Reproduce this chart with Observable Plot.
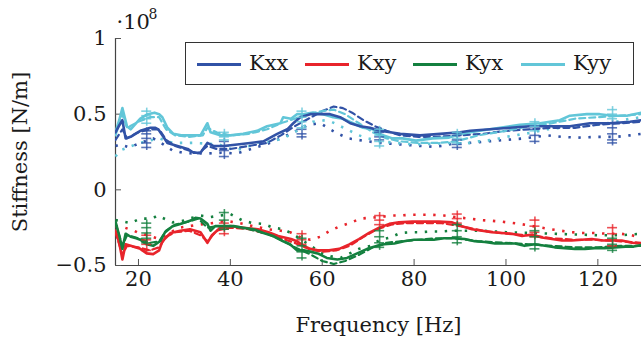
<!DOCTYPE html>
<html><head><meta charset="utf-8">
<script src="https://cdn.jsdelivr.net/npm/d3@7"></script>
<script src="https://cdn.jsdelivr.net/npm/@observablehq/plot@0.6"></script>
<style>
html,body{margin:0;padding:0;background:#fff;}
#wrap{position:relative;width:641px;height:347px;font-family:"DejaVu Serif","Liberation Serif",serif;color:#1a1a1a;}
#wrap svg text{font-family:"DejaVu Serif","Liberation Serif",serif;}
#legend{position:absolute;left:185px;top:42px;width:447px;height:41px;border:1.3px solid #333;background:#fff;}
.item{position:absolute;top:0;height:41px;}
.item .ln{position:absolute;left:0;top:20px;width:44px;height:3px;}
.item .tx{position:absolute;left:52px;top:6px;font-size:21px;line-height:28px;}
</style>
</head><body>
<div id="wrap"></div>
<script>
// ---- data (values in units of 1e8 N/m) ----
const seriesNames = ["Kxx","Kxy","Kyx","Kyy"];
const seriesColors = ["#3152a6","#e8242b","#14803f","#62c6d8"];
const xTicks = [20,40,60,80,100,120];
const yTicks = [-0.5,0,0.5,1];

// solid
const kxxF = [15,15.7,16.5,17.2,18.3,19.3,20.4,21.5,22.6,23.7,24.3,25.2,26.3,27.4,28.5,29.6,30.7,32,33.5,34.3,35,36.3,38.5,41.5,44.3,47.2,50.2,52.4,53.7,55.2,57.4,59.6,61.7,63.9,66.1,68.3,70.4,72.6,74.8,77,81.3,85.7,90,92.2,96.5,100.9,105.2,109.6,113.9,118.3,122.6,127,129.5];
const kxxV = [0.38,0.42,0.46,0.34,0.35,0.37,0.39,0.40,0.41,0.41,0.40,0.36,0.31,0.30,0.29,0.28,0.27,0.245,0.245,0.28,0.31,0.29,0.29,0.30,0.31,0.32,0.37,0.40,0.44,0.48,0.50,0.50,0.50,0.48,0.44,0.42,0.41,0.39,0.38,0.37,0.36,0.37,0.38,0.39,0.40,0.41,0.42,0.42,0.42,0.44,0.44,0.45,0.46];
const kyyF = [15,15.8,16.5,17.5,18.3,19.5,20.4,22,23.5,24.5,25.2,26.3,27.6,29.3,31.5,33.5,35,35.7,37.8,40,42.8,45.8,48,50.9,51.5,53.2,54.5,55.8,58,60.2,62.4,64.5,66.7,68.9,71,73.2,75.3,77.5,80.4,84,87.6,90,94.3,98.7,103,107.4,111.7,113.9,117.6,120.4,123.2,126.3,129.5];
const kyyV = [0.38,0.46,0.54,0.42,0.40,0.44,0.47,0.50,0.51,0.50,0.48,0.41,0.37,0.36,0.36,0.36,0.44,0.38,0.36,0.36,0.37,0.39,0.42,0.44,0.48,0.47,0.50,0.50,0.51,0.50,0.48,0.47,0.44,0.41,0.40,0.36,0.34,0.34,0.325,0.34,0.345,0.37,0.39,0.41,0.43,0.44,0.46,0.49,0.50,0.50,0.49,0.49,0.51];
const kxyF = [15,15.8,16.5,17.2,18.3,19.3,20.4,21.8,23.2,24.5,25.2,27,29.1,31.2,33.5,35,36,37.8,40,42.8,46,48.3,50.4,53.2,54.5,56,57.4,59,61.5,63.7,65.9,68,70.2,72.4,74.6,76.7,79.6,82.4,85.4,88.3,90.4,92.6,94.8,96.9,99.1,101.3,103.5,105.7,107.8,110,112.2,114.3,116.5,118.7,120.9,123,125.2,127.4,129.5];
const kxyV = [-0.27,-0.35,-0.46,-0.36,-0.37,-0.38,-0.39,-0.42,-0.425,-0.40,-0.34,-0.285,-0.27,-0.26,-0.28,-0.35,-0.30,-0.25,-0.24,-0.25,-0.26,-0.28,-0.305,-0.325,-0.34,-0.37,-0.39,-0.40,-0.40,-0.39,-0.36,-0.325,-0.285,-0.25,-0.225,-0.215,-0.21,-0.21,-0.21,-0.215,-0.24,-0.26,-0.27,-0.28,-0.285,-0.29,-0.305,-0.295,-0.315,-0.325,-0.335,-0.335,-0.33,-0.325,-0.335,-0.335,-0.335,-0.35,-0.355];
const kyxF = [15,15.8,16.5,17.2,18.3,19.5,20.4,21.8,23.2,24.7,25.8,27.4,29.1,31.2,32.4,33.5,35,35.7,36.7,38.5,40.7,42.8,45,47.2,49.3,51.5,53,54.5,56,57.6,59,61,63.3,65.4,67.6,69.8,72,73.5,75.7,77.8,80,82.2,84.3,86.5,88.7,91,93.2,95.4,97.6,99.8,102,104,106.3,108.5,110.6,112.8,115,117.2,119.3,121.5,123.7,126,127.8,129.5];
const kyxV = [-0.21,-0.30,-0.39,-0.29,-0.31,-0.32,-0.33,-0.36,-0.37,-0.34,-0.28,-0.24,-0.225,-0.205,-0.185,-0.19,-0.225,-0.27,-0.24,-0.24,-0.24,-0.25,-0.26,-0.285,-0.305,-0.34,-0.36,-0.40,-0.40,-0.41,-0.42,-0.45,-0.46,-0.45,-0.42,-0.39,-0.37,-0.36,-0.355,-0.34,-0.33,-0.33,-0.33,-0.32,-0.32,-0.325,-0.34,-0.345,-0.355,-0.355,-0.355,-0.37,-0.36,-0.37,-0.38,-0.385,-0.39,-0.39,-0.385,-0.385,-0.38,-0.375,-0.375,-0.365];

// dashed
const kxxDashF = [15,16.5,17.5,20,22.5,24.5,26,28,31,33,35,37,40,44,48,51,54,57,60,62.5,64.5,66.5,69,71.5,74,77,81,85,90,95,100,105,110,115,120,125,129.5];
const kxxDashV = [0.33,0.40,0.34,0.38,0.40,0.40,0.33,0.29,0.26,0.24,0.29,0.27,0.27,0.29,0.31,0.36,0.42,0.47,0.52,0.55,0.54,0.51,0.46,0.42,0.39,0.36,0.35,0.35,0.36,0.37,0.39,0.40,0.41,0.41,0.43,0.44,0.45];
const kyyDashF = [15,16.5,17.5,20,22.5,24.5,26,28,31,34,35,37,40,44,48,51,54,57,60,62.5,65,68,71,74,77,81,85,89,94,100,105,110,115,120,125,129.5];
const kyyDashV = [0.36,0.50,0.41,0.45,0.48,0.48,0.40,0.36,0.35,0.36,0.41,0.38,0.36,0.37,0.40,0.44,0.47,0.50,0.52,0.53,0.50,0.44,0.38,0.34,0.32,0.31,0.31,0.32,0.36,0.39,0.42,0.44,0.47,0.48,0.49,0.50];
const kxyDashF = [15,16.5,17.5,20,22.5,24.5,26,28,31,33.5,35,37,40,44,48,51,54,57,60,63,66,69,72,75,78,82,86,90,95,100,105,110,115,120,125,129.5];
const kxyDashV = [-0.28,-0.43,-0.37,-0.38,-0.40,-0.38,-0.31,-0.28,-0.27,-0.30,-0.34,-0.27,-0.25,-0.26,-0.29,-0.32,-0.35,-0.39,-0.41,-0.40,-0.37,-0.31,-0.26,-0.23,-0.22,-0.22,-0.22,-0.24,-0.27,-0.29,-0.30,-0.32,-0.33,-0.33,-0.34,-0.35];
const kyxDashF = [15,16.5,17.5,20,22.5,24.5,26,28,31,33,35,37,40,44,48,51,54,57,60,62.5,65,68,71,74,77,81,85,89,94,100,105,110,115,120,125,129.5];
const kyxDashV = [-0.22,-0.37,-0.30,-0.32,-0.35,-0.34,-0.27,-0.23,-0.21,-0.19,-0.25,-0.24,-0.24,-0.26,-0.29,-0.33,-0.38,-0.42,-0.47,-0.49,-0.47,-0.43,-0.38,-0.35,-0.34,-0.33,-0.32,-0.32,-0.34,-0.35,-0.36,-0.37,-0.38,-0.38,-0.37,-0.37];

// dotted
const kxxDotF = [15,16,18,20.4,23.2,25.4,27.4,29.6,32,35,38,41.3,43.5,45.6,47.8,49.3,51,53,55,57,59.6,61.7,63.5,65.7,67.8,70,72.6,74.8,77,79.2,81.3,84,86,88.5,92,96,100,104,109,112,115.5,120,124,127,129.5];
const kxxDotV = [0.29,0.30,0.28,0.31,0.34,0.30,0.26,0.245,0.24,0.24,0.245,0.24,0.26,0.28,0.30,0.32,0.34,0.37,0.40,0.43,0.44,0.40,0.37,0.34,0.33,0.32,0.31,0.305,0.30,0.295,0.29,0.285,0.29,0.305,0.31,0.32,0.33,0.34,0.36,0.35,0.345,0.35,0.35,0.36,0.37];
const kyyDotF = [15,16,18.5,20.4,23,24.5,27.5,29.6,32,35,37.5,41,43.5,45.6,49,51.5,54,56,58,60,62,64,66,68,70,73,76,80,84,88,91,94,97,100,103,106,109,112,116,120,124,127,129.5];
const kyyDotV = [0.22,0.26,0.29,0.31,0.33,0.34,0.31,0.31,0.31,0.305,0.30,0.26,0.28,0.31,0.32,0.34,0.38,0.42,0.45,0.46,0.45,0.42,0.39,0.36,0.34,0.32,0.31,0.30,0.305,0.31,0.305,0.32,0.33,0.35,0.365,0.38,0.40,0.41,0.42,0.43,0.45,0.47,0.48];
const kxyDotF = [15,17,19,20,22,24,25.5,27,29,31,33,36,39,42,45,48,51,53,55,57.4,59.6,61.7,63.9,66,68.3,70.4,72.6,74.8,77,79,81.3,84,86.5,89,92,94.6,97,99,103,109.6,112,114.3,116.7,119,122,125,127.4,129.5];
const kxyDotV = [-0.24,-0.25,-0.27,-0.285,-0.30,-0.32,-0.31,-0.28,-0.25,-0.24,-0.23,-0.22,-0.205,-0.22,-0.24,-0.26,-0.27,-0.28,-0.31,-0.33,-0.31,-0.27,-0.24,-0.22,-0.19,-0.185,-0.18,-0.17,-0.17,-0.165,-0.165,-0.165,-0.17,-0.18,-0.19,-0.20,-0.205,-0.21,-0.225,-0.26,-0.27,-0.28,-0.285,-0.285,-0.29,-0.29,-0.30,-0.32];
const kyxDotF = [15,16,18.3,20.4,23,24.1,27.4,29.6,31.7,33.5,35.7,37.8,40,42.8,45,47.2,49.3,51.5,53.5,55.5,57.5,60,62,64,66,68,70.5,72.6,74.8,77,79.2,81.3,84,86,88.3,91,95,100,105,110,115,120,125,129.5];
const kyxDotV = [-0.20,-0.205,-0.22,-0.19,-0.19,-0.17,-0.215,-0.205,-0.185,-0.17,-0.18,-0.17,-0.16,-0.205,-0.22,-0.225,-0.25,-0.26,-0.29,-0.33,-0.37,-0.42,-0.44,-0.45,-0.42,-0.39,-0.37,-0.33,-0.315,-0.285,-0.28,-0.28,-0.275,-0.275,-0.27,-0.27,-0.27,-0.28,-0.285,-0.29,-0.295,-0.30,-0.30,-0.29];

// measured points with error marks
const errF = [21.8,38.7,55.6,72.5,89.4,106.3,123.2];
const kxxErr = [[0.39,0.37,0.34,0.31,0.28],[0.32,0.29,0.26,0.22],[0.40,0.37,0.35],[0.38,0.35,0.33],[0.36,0.33,0.30,0.28],[0.40,0.36,0.32],[0.44,0.41,0.37,0.33,0.31]];
const kyyErr = [[0.52,0.49,0.47,0.44],[0.38,0.35,0.33],[0.52,0.48,0.45,0.41],[0.40,0.36,0.32,0.29],[0.38,0.34,0.31],[0.45,0.42,0.39],[0.53,0.50,0.47]];
const kxyErr = [[-0.30,-0.33,-0.36,-0.40],[-0.22,-0.26,-0.29],[-0.29,-0.33,-0.36],[-0.17,-0.20,-0.23],[-0.16,-0.19,-0.22],[-0.20,-0.24,-0.28,-0.31],[-0.25,-0.29,-0.33,-0.37]];
const kyxErr = [[-0.22,-0.25,-0.285,-0.32,-0.35],[-0.15,-0.20,-0.24,-0.26],[-0.32,-0.37,-0.41,-0.45],[-0.27,-0.31,-0.35,-0.38],[-0.23,-0.27,-0.31,-0.35],[-0.27,-0.31,-0.36,-0.39],[-0.32,-0.36,-0.40]];

// ---- build tables ----
const zip = (F, V) => F.map((f, i) => ({f, v: V[i]}));
const solid = [zip(kxxF,kxxV), zip(kxyF,kxyV), zip(kyxF,kyxV), zip(kyyF,kyyV)];
const dashed = [zip(kxxDashF,kxxDashV), zip(kxyDashF,kxyDashV), zip(kyxDashF,kyxDashV), zip(kyyDashF,kyyDashV)];
const dotted = [zip(kxxDotF,kxxDotV), zip(kxyDotF,kxyDotV), zip(kyxDotF,kyxDotV), zip(kyyDotF,kyyDotV)];
const errs = [kxxErr, kxyErr, kyxErr, kyyErr];

const FONT = "'DejaVu Serif', 'Liberation Serif', serif";
const marks = [];
marks.push(Plot.ruleX([15], {y1: -0.5, y2: 1, stroke: "#444", strokeWidth: 1.2}));
marks.push(Plot.ruleY([-0.5], {stroke: "#444", strokeWidth: 1.2}));
marks.push(Plot.ruleX(xTicks, {y1: -0.5, y2: -0.5, insetBottom: 6, stroke: "#555", strokeWidth: 1}));
marks.push(Plot.ruleY(yTicks, {x1: 15, x2: 15, insetRight: -6, stroke: "#555", strokeWidth: 1}));

const order = [0,1,2,3];
for (const s of order) {
  marks.push(Plot.line(dotted[s], {x: "f", y: "v", stroke: seriesColors[s], strokeWidth: 2.6, strokeDasharray: "2.4 7.6", strokeLinecap: "butt", clip: true}));
}
for (const s of order) {
  marks.push(Plot.line(dashed[s], {x: "f", y: "v", stroke: seriesColors[s], strokeWidth: 2.2, strokeDasharray: "6 4", clip: true}));
}
for (const s of [3,0,1,2]) {
  marks.push(Plot.line(solid[s], {x: "f", y: "v", stroke: seriesColors[s], strokeWidth: 2.6, strokeLinejoin: "round", clip: true}));
}
for (const s of order) {
  const pts = [], rng = [];
  errF.forEach((f, i) => {
    const vals = errs[s][i];
    vals.forEach(v => pts.push({f, v}));
    rng.push({f, lo: d3.min(vals) - 0.02, hi: d3.max(vals) + 0.02});
  });
  marks.push(Plot.ruleX(rng, {x: "f", y1: "lo", y2: "hi", stroke: seriesColors[s], strokeWidth: 1.6, strokeOpacity: 0.8}));
  marks.push(Plot.ruleY(pts, {y: "v", x1: "f", x2: "f", insetLeft: -5, insetRight: -5, stroke: seriesColors[s], strokeWidth: 1.6, strokeOpacity: 0.8}));
}

const fmt = d => d === 0 ? "0" : d === 1 ? "1" : String(d).replace("-", "\u2212");
marks.push(Plot.axisX({ticks: xTicks, tickSize: 0, tickPadding: 6, label: null, fontSize: 21, fontFamily: FONT}));
marks.push(Plot.axisY({ticks: yTicks, tickSize: 0, tickPadding: 9, tickFormat: fmt, label: null, fontSize: 21, fontFamily: FONT}));
marks.push(Plot.text(["Frequency [Hz]"], {frameAnchor: "bottom", dy: 60, lineAnchor: "middle", fontSize: 21, fontFamily: FONT, fill: "#1a1a1a"}));
marks.push(Plot.text(["Stiffness [N/m]"], {frameAnchor: "left", dx: -95, rotate: -90, lineAnchor: "middle", textAnchor: "middle", fontSize: 21, fontFamily: FONT, fill: "#1a1a1a"}));
marks.push(Plot.text(["\u00b710"], {frameAnchor: "top-left", dx: 1, dy: -10, lineAnchor: "bottom", textAnchor: "start", fontSize: 21, fontFamily: FONT, fill: "#1a1a1a"}));
marks.push(Plot.text(["8"], {frameAnchor: "top-left", dx: 33, dy: -20, lineAnchor: "bottom", textAnchor: "start", fontSize: 14, fontFamily: FONT, fill: "#1a1a1a"}));

const chart = Plot.plot({
  width: 641, height: 347,
  marginLeft: 115, marginRight: 0, marginTop: 38, marginBottom: 82,
  x: {domain: [15, 129.5]},
  y: {domain: [-0.5, 1]},
  style: {fontFamily: FONT, fontSize: "21px", color: "#1a1a1a", background: "#fff", overflow: "visible"},
  marks
});
const wrap = document.getElementById("wrap");
wrap.appendChild(chart);

const leg = document.createElement("div");
leg.id = "legend";
seriesNames.forEach((n, i) => {
  const it = document.createElement("div");
  it.className = "item";
  it.style.left = (11 + i * 108) + "px";
  it.innerHTML = `<div class="ln" style="background:${seriesColors[i]}"></div><div class="tx">${n}</div>`;
  leg.appendChild(it);
});
wrap.appendChild(leg);
</script>
</body></html>
